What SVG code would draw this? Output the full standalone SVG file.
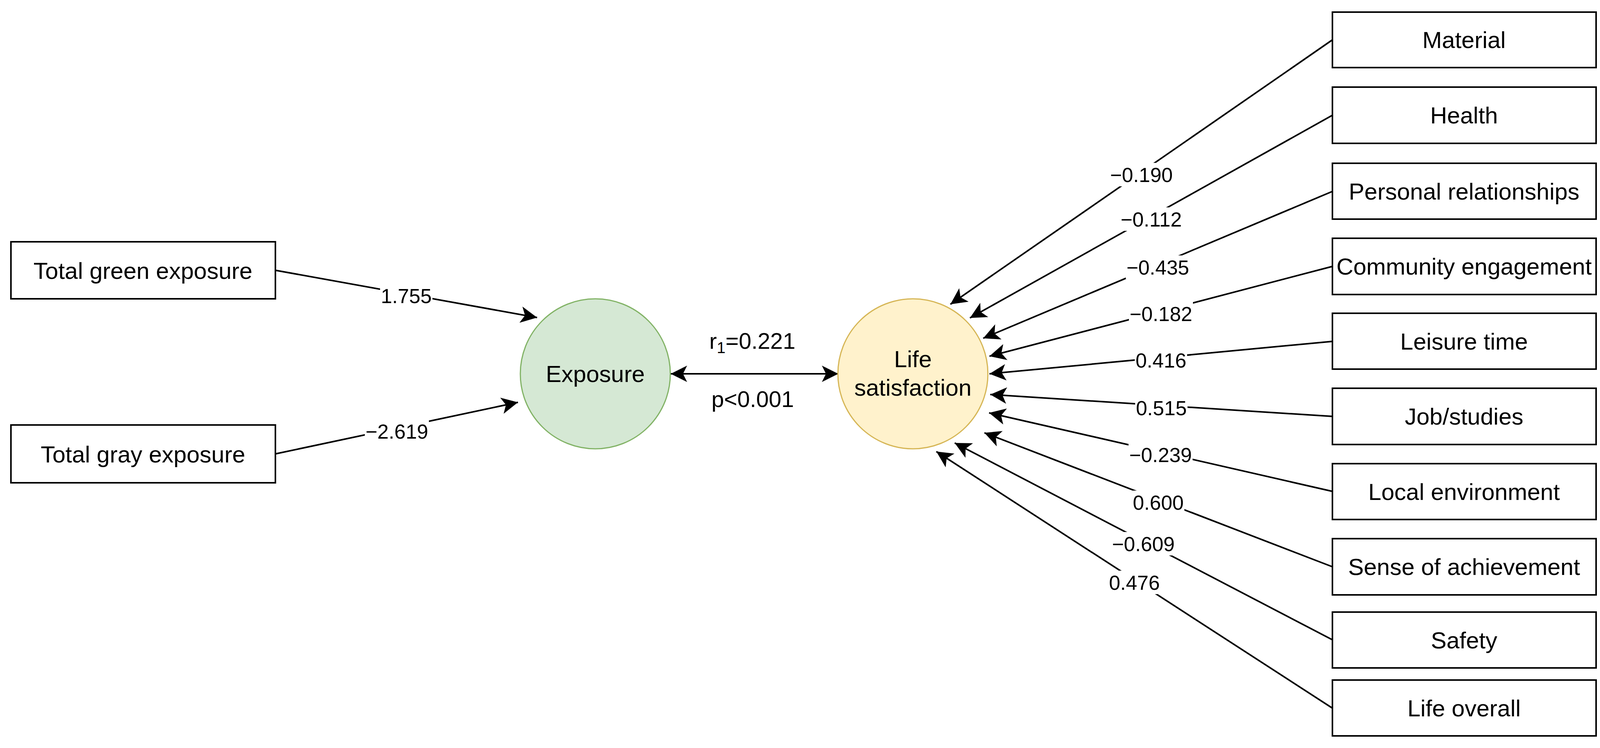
<svg xmlns="http://www.w3.org/2000/svg" width="4293" height="1915" viewBox="0 0 4293 1915">
<style>
.box{fill:#fff;stroke:#000;stroke-width:4}
.t{font-family:"Liberation Sans",Arial,sans-serif;font-size:60px;fill:#000;text-anchor:middle}
.lab{font-family:"Liberation Sans",Arial,sans-serif;font-size:52px;fill:#000;text-anchor:middle}
.c{font-family:"Liberation Sans",Arial,sans-serif;font-size:58px;fill:#000;text-anchor:middle}
.e{fill:none;stroke:#000;stroke-width:4;marker-end:url(#arr)}
.bg{fill:#fff}
</style>
<defs>
<marker id="arr" viewBox="0 0 42 42" refX="42" refY="21" markerWidth="42" markerHeight="42" markerUnits="userSpaceOnUse" orient="auto-start-reverse">
<path d="M42,21 L0,0 L10.5,21 L0,42 Z" fill="#000"/>
</marker>
</defs>
<rect width="4293" height="1915" fill="#fff"/>
<g id="connectors">
<line class="e" x1="705" y1="692" x2="1375" y2="813"/>
<line class="e" x1="705" y1="1162" x2="1326" y2="1030"/>
<line class="e" x1="1717" y1="957" x2="2146" y2="957" style="marker-start:url(#arr)"/>
<line class="e" x1="3411" y1="102" x2="2433" y2="779"/>
<line class="e" x1="3411" y1="295" x2="2483" y2="814"/>
<line class="e" x1="3411" y1="490" x2="2517" y2="866"/>
<line class="e" x1="3411" y1="682" x2="2533" y2="912"/>
<line class="e" x1="3411" y1="874" x2="2533" y2="957"/>
<line class="e" x1="3411" y1="1066" x2="2535" y2="1010"/>
<line class="e" x1="3411" y1="1258" x2="2532" y2="1057"/>
<line class="e" x1="3411" y1="1451" x2="2520" y2="1108"/>
<line class="e" x1="3411" y1="1638" x2="2444" y2="1134"/>
<line class="e" x1="3411" y1="1813" x2="2397" y2="1156"/>
<g id="edge-labels">
<rect class="bg" x="973" y="727" width="134" height="60"/><text class="lab" x="1040" y="776">1.755</text>
<rect class="bg" x="934" y="1074" width="164" height="60"/><text class="lab" x="1016" y="1123">−2.619</text>
<rect class="bg" x="2840" y="417" width="164" height="60"/><text class="lab" x="2922" y="466">−0.190</text>
<rect class="bg" x="2865" y="531" width="164" height="60"/><text class="lab" x="2947" y="580">−0.112</text>
<rect class="bg" x="2882" y="654" width="164" height="60"/><text class="lab" x="2964" y="703">−0.435</text>
<rect class="bg" x="2890" y="773" width="164" height="60"/><text class="lab" x="2972" y="822">−0.182</text>
<rect class="bg" x="2905" y="892" width="134" height="60"/><text class="lab" x="2972" y="941">0.416</text>
<rect class="bg" x="2906" y="1014" width="134" height="60"/><text class="lab" x="2973" y="1063">0.515</text>
<rect class="bg" x="2889" y="1134" width="164" height="60"/><text class="lab" x="2971" y="1183">−0.239</text>
<rect class="bg" x="2898" y="1256" width="134" height="60"/><text class="lab" x="2965" y="1305">0.600</text>
<rect class="bg" x="2845" y="1362" width="164" height="60"/><text class="lab" x="2927" y="1411">−0.609</text>
<rect class="bg" x="2837" y="1461" width="134" height="60"/><text class="lab" x="2904" y="1510">0.476</text>
<text class="c" x="1926" y="893">r<tspan font-size="40" dy="11">1</tspan><tspan dy="-11">=0.221</tspan></text>
<text class="c" x="1927" y="1042">p&lt;0.001</text>
</g>
</g>
<g id="node-green"><rect class="box" x="28" y="619" width="677" height="146"/><text class="t" x="366" y="714">Total green exposure</text></g>
<g id="node-gray"><rect class="box" x="28" y="1088" width="677" height="148"/><text class="t" x="366" y="1184">Total gray exposure</text></g>
<g id="node-exposure"><circle cx="1524" cy="957" r="192" fill="#d5e8d4" stroke="#82b366" stroke-width="3"/><text class="t" x="1524" y="978">Exposure</text></g>
<g id="node-life"><circle cx="2337" cy="957" r="192" fill="#fff2cc" stroke="#d6b656" stroke-width="3"/><text class="t" x="2337" y="940">Life</text><text class="t" x="2337" y="1013">satisfaction</text></g>
<g id="node-material"><rect class="box" x="3411" y="31" width="675" height="142"/><text class="t" x="3748" y="123">Material</text></g>
<g id="node-health"><rect class="box" x="3411" y="223" width="675" height="144"/><text class="t" x="3748" y="316">Health</text></g>
<g id="node-personal"><rect class="box" x="3411" y="418" width="675" height="143"/><text class="t" x="3748" y="511">Personal relationships</text></g>
<g id="node-community"><rect class="box" x="3411" y="610" width="675" height="144"/><text class="t" x="3748" y="703">Community engagement</text></g>
<g id="node-leisure"><rect class="box" x="3411" y="802" width="675" height="143"/><text class="t" x="3748" y="895">Leisure time</text></g>
<g id="node-job"><rect class="box" x="3411" y="994" width="675" height="144"/><text class="t" x="3748" y="1087">Job/studies</text></g>
<g id="node-local"><rect class="box" x="3411" y="1187" width="675" height="143"/><text class="t" x="3748" y="1280">Local environment</text></g>
<g id="node-sense"><rect class="box" x="3411" y="1379" width="675" height="144"/><text class="t" x="3748" y="1472">Sense of achievement</text></g>
<g id="node-safety"><rect class="box" x="3411" y="1567" width="675" height="143"/><text class="t" x="3748" y="1660">Safety</text></g>
<g id="node-overall"><rect class="box" x="3411" y="1741" width="675" height="143"/><text class="t" x="3748" y="1834">Life overall</text></g>
</svg>
